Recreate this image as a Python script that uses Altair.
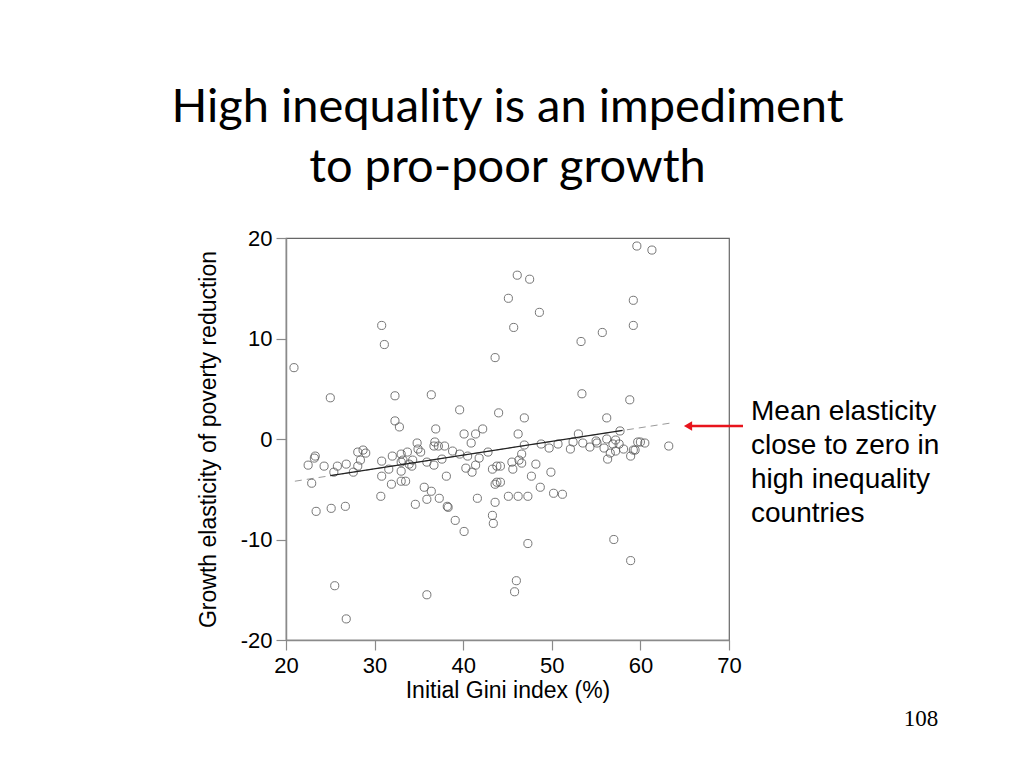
import altair as alt
import pandas as pd

# one value per country
gini = [
    20.9, 25.0, 30.8, 31.1, 32.3, 36.4, 39.6, 43.6, 44.0, 45.1,
    32.3, 32.8, 36.9, 40.1, 41.4, 42.2, 59.6, 61.3, 46.1, 47.5,
    59.2, 48.6, 45.7, 59.2, 55.7, 53.3, 53.4, 58.8, 46.9, 56.2,
    46.2, 53.0, 57.7, 22.5, 23.2, 23.3, 24.3, 22.9, 25.4, 25.8,
    26.8, 28.1, 28.7, 29.0, 28.4, 28.1, 27.6, 23.4, 25.1, 26.7,
    30.7, 30.8, 30.8, 31.9, 31.6, 32.0, 33.0, 33.7, 33.0, 33.2,
    33.9, 34.3, 34.2, 33.0, 33.0, 33.5, 34.8, 34.9, 35.2, 35.9,
    36.8, 36.7, 37.2, 37.9, 36.7, 37.6, 38.1, 38.8, 39.6, 40.5,
    40.9, 41.8, 40.3, 41.0, 41.4, 42.8, 43.3, 43.8, 43.8, 43.6,
    35.6, 36.4, 35.9, 37.3, 34.6, 38.2, 38.3, 39.1, 40.1, 41.6,
    43.3, 43.4, 43.6, 45.1, 25.5, 35.9, 26.8, 46.9, 48.8, 49.7,
    50.7, 52.1, 52.4, 53.5, 54.3, 55.0, 55.1, 55.9, 56.2, 56.3,
    56.6, 56.9, 57.2, 57.2, 57.6, 58.1, 58.9, 59.2, 59.4, 59.7,
    60.0, 60.5, 63.2, 44.2, 45.5, 45.6, 46.6, 46.6, 46.3, 48.2,
    47.7, 49.9, 48.7, 46.2, 47.3, 50.2, 51.2, 44.2, 47.3, 46.0,
    45.8, 57.0, 58.9,
]
elasticity = [
    7.1, 4.1, 11.3, 9.4, 4.3, 4.4, 2.9, 8.1, 2.6, 14.0,
    1.8, 1.2, 1.0, 0.5, 0.5, 1.0, 19.2, 18.8, 16.3, 15.9,
    13.8, 12.6, 11.1, 11.3, 10.6, 9.7, 4.5, 3.9, 2.1, 2.1,
    0.5, 0.5, 0.8, -2.6, -1.9, -1.7, -2.7, -4.4, -3.3, -2.7,
    -2.5, -1.3, -1.1, -1.4, -2.1, -2.7, -3.3, -7.2, -6.9, -6.7,
    -5.7, -2.2, -3.7, -4.5, -3.0, -1.7, -1.5, -1.3, -2.3, -2.1,
    -2.5, -2.1, -2.7, -3.2, -4.2, -4.2, -0.4, -1.0, -1.3, -2.3,
    -0.3, -0.7, -0.7, -0.7, -2.6, -2.0, -3.7, -1.2, -1.5, -1.7,
    -0.4, -1.9, -2.9, -3.3, -2.6, -1.3, -3.0, -2.7, -4.3, -4.5,
    -4.8, -5.2, -6.0, -5.9, -6.5, -6.7, -6.8, -8.1, -9.2, -5.9,
    -7.6, -8.4, -6.3, -5.7, -14.6, -15.5, -17.9, -0.6, -0.5, -0.9,
    -0.5, -1.0, -0.3, -0.4, -0.8, -0.2, -0.4, -0.9, 0.0, -2.0,
    -1.4, -0.5, -1.2, -0.1, -0.5, -1.0, -1.7, -1.1, -1.1, -0.3,
    -0.3, -0.4, -0.7, -2.7, -2.3, -3.0, -1.5, -2.4, -2.1, -2.5,
    -3.7, -3.3, -4.8, -5.7, -5.7, -5.4, -5.5, -4.3, -10.4, -14.1,
    -15.2, -10.0, -12.1,
]

# fitted line: full dashed extent and its solid middle part
fit_gini = [21.0, 63.5]
fit_elasticity = [-4.2, 1.6]
fit_solid_gini = [25.0, 58.0]
fit_solid_elasticity = [-3.65, 0.85]

x_ticks = [20, 30, 40, 50, 60, 70]
y_ticks = [-20, -10, 0, 10, 20]

title_lines = ["High inequality is an impediment", "to pro-poor growth"]
note_lines = ["Mean elasticity", "close to zero in", "high inequality", "countries"]
page_number = "108"

W, H = 443, 402
GREY = "#8a8a8a"
RED = "#e8141c"
SANS = "Liberation Sans"

x_scale = alt.Scale(domain=[20, 70], nice=False, zero=False)
y_scale = alt.Scale(domain=[-20, 20], nice=False)

scatter = (
    alt.Chart(pd.DataFrame({"gini": gini, "elasticity": elasticity}))
    .mark_point(shape="circle", filled=False, size=66, strokeWidth=1, color="#555555", opacity=0.8)
    .encode(
        x=alt.X(
            "gini:Q",
            scale=x_scale,
            axis=alt.Axis(
                values=x_ticks, title="Initial Gini index (%)",
                labelFlush=False, labelPadding=5, titlePadding=3,
            ),
        ),
        y=alt.Y(
            "elasticity:Q",
            scale=y_scale,
            axis=alt.Axis(
                values=y_ticks,
                title="Growth elasticity of poverty reduction",
                labelExpr="datum.value < 0 ? '-' + abs(datum.value) : '' + datum.value",
                labelFlush=False,
                labelPadding=4,
                titlePadding=20,
            ),
        ),
    )
)

fit_dashed = (
    alt.Chart(pd.DataFrame({"gini": fit_gini, "elasticity": fit_elasticity}))
    .mark_line(color="#9a9a9a", strokeWidth=1, strokeDash=[7, 5])
    .encode(x=alt.X("gini:Q", scale=x_scale), y=alt.Y("elasticity:Q", scale=y_scale))
)
fit_solid = (
    alt.Chart(pd.DataFrame({"gini": fit_solid_gini, "elasticity": fit_solid_elasticity}))
    .mark_line(color="#222222", strokeWidth=1.3)
    .encode(x=alt.X("gini:Q", scale=x_scale), y=alt.Y("elasticity:Q", scale=y_scale))
)

one = pd.DataFrame({"k": [0]})
arrow_line = (
    alt.Chart(one)
    .mark_rule(color=RED, strokeWidth=2.5)
    .encode(x=alt.value(402), x2=alt.value(457), y=alt.value(188))
)
arrow_head = (
    alt.Chart(one)
    .mark_point(shape="triangle-left", filled=True, color=RED, size=90, opacity=1)
    .encode(x=alt.value(402), y=alt.value(188))
)
note = (
    alt.Chart(one)
    .mark_text(text=note_lines, font=SANS, fontSize=28, lineHeight=34, align="left", baseline="alphabetic", color="#000")
    .encode(x=alt.value(465), y=alt.value(182))
)
page = (
    alt.Chart(one)
    .mark_text(text=page_number, font="Liberation Serif", fontSize=23, align="center", color="#000")
    .encode(x=alt.value(635), y=alt.value(481))
)

chart = (
    alt.layer(fit_dashed, scatter, fit_solid, arrow_line, arrow_head, note, page)
    .properties(
        width=W,
        height=H,
        padding={"left": 162, "top": 76, "right": 5, "bottom": 5},
        title=alt.TitleParams(
            title_lines, font="Lato", fontSize=47, fontWeight="normal", lineHeight=60,
            color="#000", anchor="middle", offset=35,
        ),
    )
    .configure_axis(
        grid=False,
        domainColor=GREY,
        domainWidth=1.5,
        tickColor=GREY,
        tickWidth=1.2,
        tickSize=10,
        labelFont=SANS,
        labelFontSize=22,
        labelColor="#000",
        titleFont=SANS,
        titleFontSize=23,
        titleFontWeight="normal",
        titleColor="#000",
    )
    .configure_view(stroke="#666", strokeWidth=1.2)
)

chart.save("out.html", embed_options={"renderer": "svg", "actions": False})
